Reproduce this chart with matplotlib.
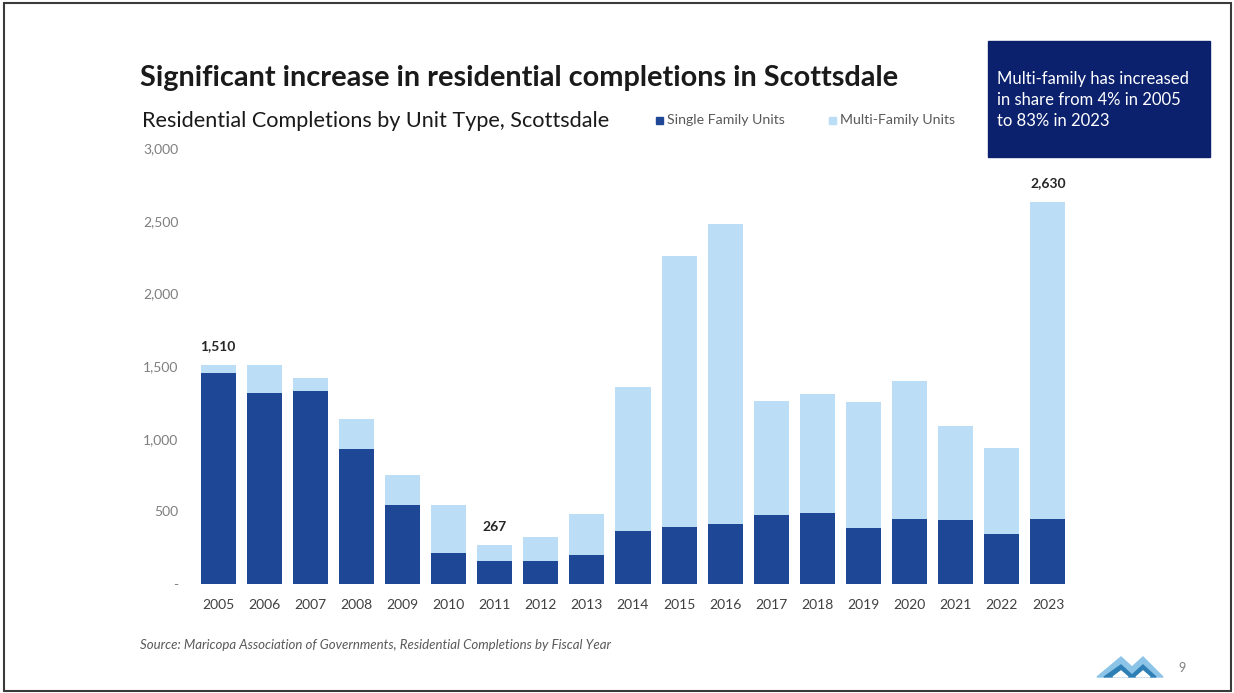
import numpy as np
import matplotlib.pyplot as plt
from matplotlib.patches import Rectangle, Polygon
from matplotlib.ticker import FuncFormatter

# Residential completions by fiscal year, Scottsdale
years = [str(y) for y in range(2005, 2024)]
single_family = [1450, 1312, 1326, 929, 541, 215, 160, 158, 197, 363,
                 392, 411, 473, 491, 388, 450, 443, 344, 447]
multi_family = [60, 198, 94, 209, 209, 329, 107, 167, 285, 993,
                1867, 2064, 786, 819, 867, 947, 644, 592, 2183]
labeled_years = ['2005', '2011', '2023']

DARK_BLUE = '#1E4896'
LIGHT_BLUE = '#BBDDF6'
NAVY = '#0C216E'
FONT = 'Lato'

plt.rcParams['font.family'] = [FONT, 'DejaVu Sans']

fig = plt.figure(figsize=(12.34, 6.93), dpi=100)
fig.patch.set_facecolor('white')

ax = fig.add_axes([0.158, 0.1573, 0.7099, 0.6291])
x = np.arange(len(years))
ax.bar(x, single_family, width=0.76, color=DARK_BLUE, label='Single Family Units')
ax.bar(x, multi_family, width=0.76, bottom=single_family, color=LIGHT_BLUE,
       label='Multi-Family Units')

totals = np.array(single_family) + np.array(multi_family)
for i, yr in enumerate(years):
    if yr in labeled_years:
        ax.text(i, totals[i] + 85, f'{totals[i]:,}', ha='center', va='bottom',
                fontsize=10, fontweight='bold', color='#262626')

ax.set_xlim(-0.5, len(years) - 0.5)
ax.set_ylim(0, 3000)
ax.set_yticks(np.arange(0, 3001, 500))
ax.yaxis.set_major_formatter(FuncFormatter(lambda v, p: '-' if v == 0 else f'{int(v):,}'))
ax.set_xticks(x)
ax.set_xticklabels(years)
ax.tick_params(axis='y', length=0, pad=12, labelsize=10, labelcolor='#7F7F7F')
ax.tick_params(axis='x', length=0, pad=11, labelsize=10, labelcolor='#404040')
for s in ax.spines.values():
    s.set_visible(False)

# headings
fig.text(0.1135, 1 - 78 / 693, 'Significant increase in residential completions in Scottsdale',
         fontsize=20.8, fontweight='bold', color='#1A1A1A', va='center')
fig.text(0.1150, 1 - 121 / 693, 'Residential Completions by Unit Type, Scottsdale',
         fontsize=15.6, color='#1A1A1A', va='center')

# legend
fig.patches.append(Rectangle((656 / 1234, 1 - 124 / 693), 7 / 1234, 7 / 693,
                             transform=fig.transFigure, color=DARK_BLUE))
fig.text(667 / 1234, 1 - 120 / 693, 'Single Family Units', fontsize=10.2,
         color='#595959', va='center')
fig.patches.append(Rectangle((829 / 1234, 1 - 124 / 693), 7 / 1234, 7 / 693,
                             transform=fig.transFigure, color=LIGHT_BLUE))
fig.text(840 / 1234, 1 - 120 / 693, 'Multi-Family Units', fontsize=10.2,
         color='#595959', va='center')

# callout box
fig.patches.append(Rectangle((988 / 1234, 1 - 157 / 693), 222 / 1234, 116 / 693,
                             transform=fig.transFigure, color=NAVY))
fig.text(997 / 1234, 1 - 100 / 693,
         'Multi-family has increased\nin share from 4% in 2005\nto 83% in 2023',
         fontsize=12, color='white', va='center', linespacing=1.35)

# source note
fig.text(140 / 1234, 1 - 645 / 693,
         'Source: Maricopa Association of Governments, Residential Completions by Fiscal Year',
         fontsize=9.5, style='italic', color='#595959', va='center')

# logo and page number
def to_fig(pts):
    return [(px / 1234, 1 - py / 693) for px, py in pts]

fig.patches.append(Polygon(to_fig([(1097, 677), (1121, 657), (1132, 667), (1143, 657),
                                   (1163, 677), (1156, 677), (1143, 665), (1132, 675),
                                   (1121, 665), (1104, 677)]),
                           closed=True, transform=fig.transFigure, color='#8CC4E8'))
fig.patches.append(Polygon(to_fig([(1104, 677), (1121, 665), (1132, 675), (1143, 665),
                                   (1156, 677)]),
                           closed=True, transform=fig.transFigure, color='#2E7FB5'))
fig.patches.append(Polygon(to_fig([(1113, 677), (1121, 671), (1128, 677)]),
                           closed=True, transform=fig.transFigure, color='white'))
fig.patches.append(Polygon(to_fig([(1136, 677), (1143, 671), (1150, 677)]),
                           closed=True, transform=fig.transFigure, color='white'))
fig.text(1178 / 1234, 1 - 668 / 693, '9', fontsize=9, color='#7F7F7F', va='center')

# slide frame
fig.patches.append(Rectangle((4 / 1234, 2 / 693), 1227 / 1234, 688 / 693,
                             transform=fig.transFigure, fill=False,
                             edgecolor='#3A3A3A', linewidth=1.5))

fig.savefig('out.png', dpi=100)
